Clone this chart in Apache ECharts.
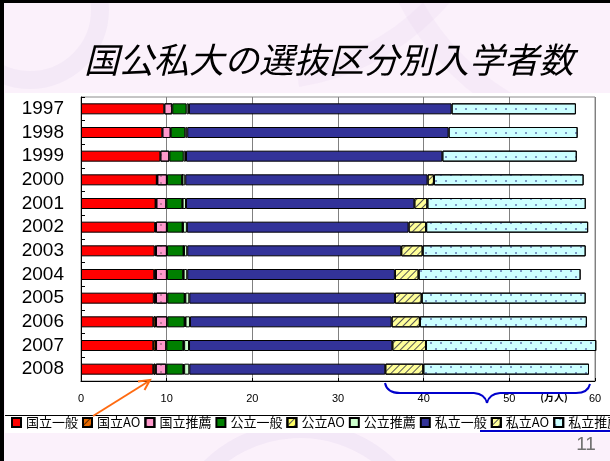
<!DOCTYPE html>
<html><head><meta charset="utf-8">
<script src="https://cdn.jsdelivr.net/npm/echarts@6/dist/echarts.min.js"></script>
<style>html,body{margin:0;padding:0;background:#fbf1fb;}#c{width:610px;height:461px;}</style>
</head><body><div id="c"></div>
<script>
const years = ['1997','1998','1999','2000','2001','2002','2003','2004','2005','2006','2007','2008'];
const xTicks = [0,10,20,30,40,50,60];
const seriesNames = ['国立一般','国立AO','国立推薦','公立一般','公立AO','公立推薦','私立一般','私立AO','私立推薦'];
const kokuIppan  = [9.72, 9.49, 9.26, 8.85, 8.71, 8.65, 8.60, 8.55, 8.50, 8.45, 8.44, 8.44];
const kokuAO     = [null, null, null, 0.05, 0.08, 0.10, 0.15, 0.20, 0.25, 0.30, 0.32, 0.28];
const kokuSuisen = [0.93, 0.98, 1.05, 1.13, 1.17, 1.28, 1.28, 1.28, 1.32, 1.32, 1.20, 1.24];
const kouIppan   = [1.68, 1.70, 1.68, 1.79, 1.87, 1.83, 1.95, 1.90, 2.03, 2.03, 1.98, 1.98];
const kouAO      = [null, null, null, 0.02, 0.03, 0.04, 0.04, 0.05, 0.08, 0.10, 0.10, 0.10];
const kouSuisen  = [0.27, 0.23, 0.27, 0.33, 0.40, 0.46, 0.38, 0.42, 0.46, 0.52, 0.57, 0.60];
const shiIppan   = [30.66, 30.51, 29.92, 28.29, 26.65, 25.88, 24.98, 24.24, 24.01, 23.54, 23.73, 22.88];
const shiAO      = [null, null, null, 0.74, 1.52, 2.05, 2.50, 2.77, 3.12, 3.30, 3.93, 4.44];
const shiSuisen  = [14.51, 15.06, 15.69, 17.47, 18.49, 18.91, 19.03, 18.91, 19.14, 19.49, 19.88, 19.34];
const seriesData = [kokuIppan, kokuAO, kokuSuisen, kouIppan, kouAO, kouSuisen, shiIppan, shiAO, shiSuisen];

const hatch = (c) => ({symbol:'rect', color:c, dashArrayX:[1,0], dashArrayY:[1,3.2], rotation:-Math.PI/4});
const dots = (c) => ({symbol:'circle', color:c, symbolSize:0.8, dashArrayX:[[1.6,7.4],[0,4.5,1.6,2.9]], dashArrayY:[1.6,3.4]});
const styles = [
  {color:'#ff0000'},
  {color:'#e86a00', decal:hatch('#5a2a00')},
  {color:'#ff99cc', decal:{symbol:'circle', color:'#444', symbolSize:0.7, dashArrayX:[1.6,8], dashArrayY:[1.6,5]}},
  {color:'#008000'},
  {color:'#ffff66', decal:hatch('#555')},
  {color:'#ccffcc'},
  {color:'#333399'},
  {color:'#ffff99', decal:hatch('#555')},
  {color:'#ccffff', decal:dots('#1a1a80')}
];

const chart = echarts.init(document.getElementById('c'), null, {renderer:'canvas'});
const series = seriesNames.map((n,i)=>({
  name:n, type:'bar', stack:'total', data:seriesData[i], barWidth:11, clip:false,
  itemStyle:Object.assign({borderColor:'#000', borderWidth:1}, styles[i]),
  emphasis:{disabled:true}, silent:true
}));
const blue = {fill:'none', stroke:'#0000cc', lineWidth:2};
const orange = {fill:'none', stroke:'#ff6a10', lineWidth:2};

chart.setOption({
  backgroundColor:'#fbf1fb',
  animation:false,
  textStyle:{fontFamily:'"Noto Sans CJK JP", "Liberation Sans", sans-serif'},
  grid:{left:81, right:15, top:97, bottom:80, show:true, borderColor:'#8c8c8c', borderWidth:1, backgroundColor:'#fff'},
  xAxis:{type:'value', min:0, max:60, interval:10,
    axisLine:{show:true, lineStyle:{color:'#000', width:1}},
    axisTick:{show:true, inside:true, length:3, lineStyle:{color:'#000'}},
    splitLine:{show:true, lineStyle:{color:'#808080', width:1}},
    axisLabel:{fontSize:11, color:'#000', margin:12, fontFamily:'"Liberation Sans", Arial, sans-serif',
      formatter:(v)=> xTicks.indexOf(v)>=0 ? String(v) : ''}
  },
  yAxis:{type:'category', data:years, inverse:true,
    axisLine:{show:true, lineStyle:{color:'#000', width:1}},
    axisTick:{show:true, inside:true, length:4, interval:0, lineStyle:{color:'#000'}},
    axisLabel:{fontSize:19, color:'#000', margin:17, interval:0, fontFamily:'"Liberation Sans", Arial, sans-serif'}
  },
  legend:{left:11, top:416, padding:0, itemGap:4, itemWidth:9, itemHeight:9, icon:'rect', selectedMode:false, width:900,
    textStyle:{fontSize:13, color:'#000', fontFamily:'"Noto Sans CJK JP", sans-serif'},
    data:seriesNames},
  series:series,
  graphic:[
    {type:'arc', z:-20, shape:{cx:30, cy:10, r:70, startAngle:0, endAngle:Math.PI*2}, style:{fill:'none', stroke:'rgba(200,180,225,0.12)', lineWidth:18}},
    {type:'arc', z:-20, shape:{cx:640, cy:-120, r:260, startAngle:Math.PI*0.55, endAngle:Math.PI*0.95}, style:{fill:'none', stroke:'rgba(210,190,230,0.12)', lineWidth:22}},
    {type:'arc', z:-20, shape:{cx:260, cy:-160, r:240, startAngle:Math.PI*0.05, endAngle:Math.PI*0.45}, style:{fill:'none', stroke:'rgba(210,190,230,0.12)', lineWidth:20}},
    {type:'arc', z:-20, shape:{cx:300, cy:560, r:130, startAngle:Math.PI*1.1, endAngle:Math.PI*1.9}, style:{fill:'none', stroke:'rgba(200,180,225,0.14)', lineWidth:16}},
    {type:'rect', z:-10, shape:{x:5, y:93, width:605, height:340}, style:{fill:'#ffffff'}},
    {type:'rect', z:10, shape:{x:0, y:0, width:4, height:461}, style:{fill:'#000'}},
    {type:'rect', z:10, shape:{x:0, y:0, width:610, height:3}, style:{fill:'#000'}},
    {type:'line', z:10, shape:{x1:5, y1:415.5, x2:610, y2:415.5}, style:{stroke:'#000', lineWidth:1}},
    {type:'line', z:10, shape:{x1:480, y1:431, x2:610, y2:431}, style:{stroke:'#0000cc', lineWidth:2}},
    {type:'text', z:10, x:329, y:60, style:{text:'国公私大の選抜区分別入学者数', fontSize:35, fontStyle:'italic', fontWeight:'normal', fill:'#000', align:'center', verticalAlign:'middle', fontFamily:'"Noto Sans CJK JP", sans-serif'}},
    {type:'text', z:10, x:554, y:397, style:{text:'(万人)', fontSize:10, fontWeight:'bold', fill:'#000', align:'center', verticalAlign:'middle', fontFamily:'"Noto Sans CJK JP", sans-serif'}},
    {type:'text', z:10, x:586, y:445, style:{text:'11', fontSize:19, fill:'#707070', align:'center', verticalAlign:'middle', fontFamily:'"Liberation Sans", Arial, sans-serif'}},
    {type:'bezierCurve', z:10, shape:{x1:385, y1:383, cpx1:387, cpy1:393, x2:400, y2:393}, style:blue},
    {type:'line', z:10, shape:{x1:400, y1:393, x2:474, y2:393}, style:blue},
    {type:'bezierCurve', z:10, shape:{x1:474, y1:393, cpx1:485, cpy1:394, x2:487, y2:403}, style:blue},
    {type:'bezierCurve', z:10, shape:{x1:487, y1:403, cpx1:489, cpy1:394, x2:500, y2:393}, style:blue},
    {type:'line', z:10, shape:{x1:500, y1:393, x2:576, y2:393}, style:blue},
    {type:'bezierCurve', z:10, shape:{x1:576, y1:393, cpx1:588, cpy1:393, x2:590, y2:384}, style:blue},
    {type:'line', z:10, shape:{x1:93, y1:416, x2:149, y2:381}, style:orange},
    {type:'polyline', z:10, shape:{points:[[138,381.5],[150,380],[144.5,390]]}, style:orange}
  ]
});
</script></body></html>
